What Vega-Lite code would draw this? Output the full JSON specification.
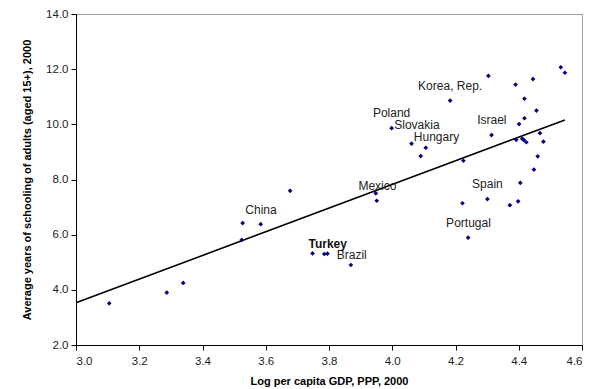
{
  "$schema": "https://vega.github.io/schema/vega-lite/v6.json",
  "width": 506,
  "height": 331,
  "autosize": "none",
  "padding": {"left": 76, "top": 14, "right": 15, "bottom": 44},
  "background": "white",
  "config": {
    "font": "Liberation Sans",
    "view": {"stroke": "#a0a0a0", "strokeWidth": 1},
    "axis": {
      "grid": false,
      "domainColor": "black",
      "tickColor": "black",
      "tickSize": 5,
      "labelFont": "Liberation Sans",
      "labelFontSize": 11.5,
      "labelColor": "#222222",
      "titleFont": "Liberation Sans",
      "titleFontSize": 11,
      "titleFontWeight": "bold",
      "titleColor": "black"
    }
  },
  "datasets": {
    "countries": [
      {"gdp": 3.105, "school": 3.51},
      {"gdp": 3.287, "school": 3.90},
      {"gdp": 3.339, "school": 4.25},
      {"gdp": 3.527, "school": 6.42},
      {"gdp": 3.584, "school": 6.38},
      {"gdp": 3.524, "school": 5.81},
      {"gdp": 3.677, "school": 7.59},
      {"gdp": 3.748, "school": 5.32},
      {"gdp": 3.785, "school": 5.30},
      {"gdp": 3.795, "school": 5.31},
      {"gdp": 3.869, "school": 4.90},
      {"gdp": 3.948, "school": 7.50},
      {"gdp": 3.951, "school": 7.23},
      {"gdp": 3.998, "school": 9.86},
      {"gdp": 4.061, "school": 9.30},
      {"gdp": 4.106, "school": 9.15},
      {"gdp": 4.090, "school": 8.85},
      {"gdp": 4.225, "school": 8.68},
      {"gdp": 4.183, "school": 10.86},
      {"gdp": 4.304, "school": 11.76},
      {"gdp": 4.445, "school": 11.64},
      {"gdp": 4.390, "school": 11.44},
      {"gdp": 4.533, "school": 12.07},
      {"gdp": 4.546, "school": 11.87},
      {"gdp": 4.418, "school": 10.93},
      {"gdp": 4.456, "school": 10.50},
      {"gdp": 4.418, "school": 10.22},
      {"gdp": 4.401, "school": 10.01},
      {"gdp": 4.314, "school": 9.61},
      {"gdp": 4.467, "school": 9.68},
      {"gdp": 4.392, "school": 9.44},
      {"gdp": 4.411, "school": 9.48},
      {"gdp": 4.416, "school": 9.43},
      {"gdp": 4.424, "school": 9.35},
      {"gdp": 4.478, "school": 9.37},
      {"gdp": 4.460, "school": 8.84},
      {"gdp": 4.448, "school": 8.36},
      {"gdp": 4.405, "school": 7.88},
      {"gdp": 4.301, "school": 7.29},
      {"gdp": 4.222, "school": 7.14},
      {"gdp": 4.398, "school": 7.21},
      {"gdp": 4.372, "school": 7.07},
      {"gdp": 4.240, "school": 5.89}
    ],
    "trend": [
      {"gdp": 3.0, "school": 3.53},
      {"gdp": 4.546, "school": 10.16}
    ],
    "labels": [
      {"name": "China", "gdp": 3.585, "school": 6.89, "bold": false},
      {"name": "Turkey", "gdp": 3.796, "school": 5.65, "bold": true},
      {"name": "Brazil", "gdp": 3.872, "school": 5.27, "bold": false},
      {"name": "Mexico", "gdp": 3.953, "school": 7.77, "bold": false},
      {"name": "Poland", "gdp": 3.998, "school": 10.41, "bold": false},
      {"name": "Slovakia", "gdp": 4.078, "school": 9.97, "bold": false},
      {"name": "Hungary", "gdp": 4.140, "school": 9.53, "bold": false},
      {"name": "Korea, Rep.", "gdp": 4.183, "school": 11.39, "bold": false},
      {"name": "Israel", "gdp": 4.315, "school": 10.16, "bold": false},
      {"name": "Spain", "gdp": 4.301, "school": 7.84, "bold": false},
      {"name": "Portugal", "gdp": 4.241, "school": 6.42, "bold": false}
    ]
  },
  "encoding": {
    "x": {
      "field": "gdp",
      "type": "quantitative",
      "scale": {"domain": [3.0, 4.6], "nice": false, "zero": false},
      "axis": {
        "title": "Log per capita GDP, PPP, 2000",
        "values": [3.0, 3.2, 3.4, 3.6, 3.8, 4.0, 4.2, 4.4, 4.6],
        "format": ".1f",
        "labelPadding": 5,
        "titlePadding": 9
      }
    },
    "y": {
      "field": "school",
      "type": "quantitative",
      "scale": {"domain": [2, 14], "nice": false, "zero": false},
      "axis": {
        "title": "Average years of schooling of adults (aged 15+), 2000",
        "values": [2, 4, 6, 8, 10, 12, 14],
        "format": ".1f",
        "labelPadding": 3,
        "titlePadding": 13
      }
    }
  },
  "layer": [
    {
      "data": {"name": "trend"},
      "mark": {"type": "line", "color": "black", "strokeWidth": 1.6}
    },
    {
      "data": {"name": "countries"},
      "mark": {"type": "point", "shape": "diamond", "filled": true, "color": "#000080", "size": 22, "opacity": 1}
    },
    {
      "data": {"name": "labels"},
      "transform": [{"filter": "!datum.bold"}],
      "mark": {"type": "text", "fontSize": 12, "color": "#222222", "align": "center", "baseline": "middle"},
      "encoding": {"text": {"field": "name"}}
    },
    {
      "data": {"name": "labels"},
      "transform": [{"filter": "datum.bold"}],
      "mark": {"type": "text", "fontSize": 12, "fontWeight": "bold", "color": "#111111", "align": "center", "baseline": "middle"},
      "encoding": {"text": {"field": "name"}}
    }
  ]
}
